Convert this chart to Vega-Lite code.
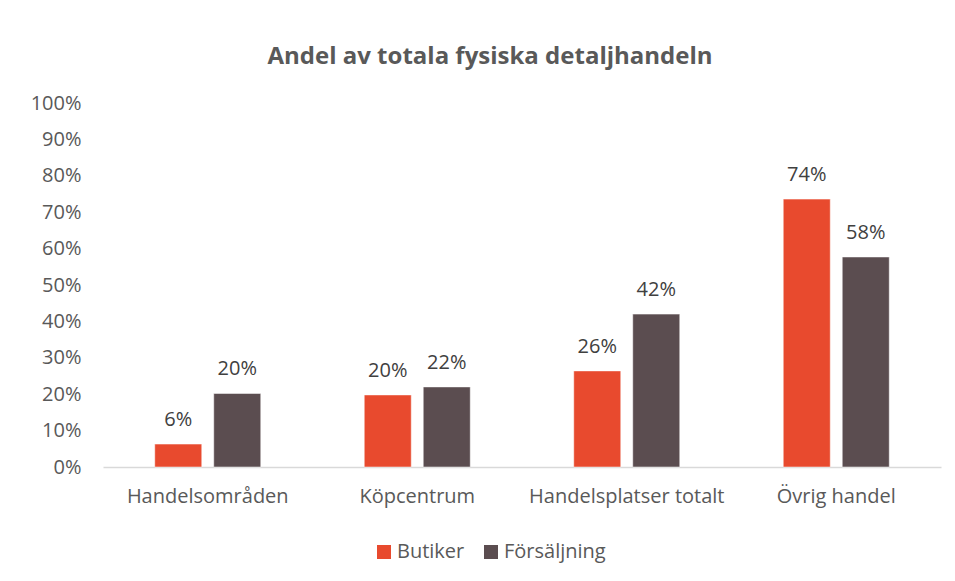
{
  "$schema": "https://vega.github.io/schema/vega-lite/v6.json",
  "width": 838,
  "height": 364,
  "autosize": {"type": "none"},
  "padding": {"left": 103, "top": 103, "right": 14, "bottom": 114},
  "background": "white",
  "title": {
    "text": "Andel av totala fysiska detaljhandeln",
    "anchor": "middle",
    "dx": -32,
    "offset": 24,
    "font": "Open Sans",
    "fontSize": 24,
    "fontWeight": "bold",
    "color": "#595959"
  },
  "data": {
    "values": [
      {"kategori": "Handelsområden", "serie": "Butiker", "andel": 0.063},
      {"kategori": "Handelsområden", "serie": "Försäljning", "andel": 0.202},
      {"kategori": "Köpcentrum", "serie": "Butiker", "andel": 0.198},
      {"kategori": "Köpcentrum", "serie": "Försäljning", "andel": 0.22},
      {"kategori": "Handelsplatser totalt", "serie": "Butiker", "andel": 0.264},
      {"kategori": "Handelsplatser totalt", "serie": "Försäljning", "andel": 0.42},
      {"kategori": "Övrig handel", "serie": "Butiker", "andel": 0.736},
      {"kategori": "Övrig handel", "serie": "Försäljning", "andel": 0.577}
    ]
  },
  "encoding": {
    "x": {
      "field": "kategori",
      "type": "nominal",
      "sort": null,
      "scale": {"paddingInner": 0.494, "paddingOuter": 0.247},
      "axis": {
        "title": null,
        "labelAngle": 0,
        "labelLimit": 0,
        "labelFont": "Open Sans",
        "labelFontSize": 20,
        "labelColor": "#595959",
        "labelPadding": 19,
        "ticks": false,
        "domainColor": "#D9D9D9",
        "domainWidth": 1.5
      }
    },
    "xOffset": {
      "field": "serie",
      "type": "nominal",
      "sort": ["Butiker", "Försäljning"],
      "scale": {"paddingInner": 0.203, "paddingOuter": 0}
    },
    "y": {
      "field": "andel",
      "type": "quantitative",
      "scale": {"domain": [0, 1]},
      "axis": {
        "title": null,
        "format": ".0%",
        "values": [0, 0.1, 0.2, 0.3, 0.4, 0.5, 0.6, 0.7, 0.8, 0.9, 1],
        "labelOverlap": false,
        "grid": false,
        "domain": false,
        "ticks": false,
        "labelFont": "Open Sans",
        "labelFontSize": 20,
        "labelColor": "#595959",
        "labelPadding": 22
      }
    },
    "color": {
      "field": "serie",
      "type": "nominal",
      "sort": ["Butiker", "Försäljning"],
      "scale": {"domain": ["Butiker", "Försäljning"], "range": ["#E84A2E", "#5B4D50"]},
      "legend": {
        "title": null,
        "orient": "none",
        "direction": "horizontal",
        "legendX": 271,
        "legendY": 439,
        "symbolType": "square",
        "symbolSize": 196,
        "symbolStrokeWidth": 0,
        "labelFont": "Open Sans",
        "labelFontSize": 20,
        "labelColor": "#595959",
        "columnPadding": 16,
        "labelOffset": 3
      }
    }
  },
  "layer": [
    {"mark": {"type": "bar", "stroke": "white", "strokeWidth": 0.5}},
    {
      "mark": {"type": "text", "dy": -24, "font": "Open Sans", "fontSize": 20},
      "encoding": {
        "text": {"field": "andel", "type": "quantitative", "format": ".0%"},
        "color": {"value": "#404040"}
      }
    }
  ],
  "config": {"view": {"stroke": null}}
}
